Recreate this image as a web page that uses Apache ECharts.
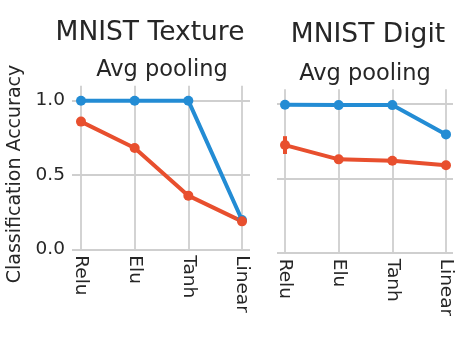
<!DOCTYPE html>
<html>
<head>
<meta charset="utf-8">
<script src="https://cdn.jsdelivr.net/npm/echarts@6/dist/echarts.min.js"></script>
<style>
  html, body { margin: 0; padding: 0; background: #fff; }
  #chart { width: 468px; height: 349px; }
</style>
</head>
<body>
<div id="chart"></div>
<script>
// Activation functions on the x axis
const categories = ['Relu', 'Elu', 'Tanh', 'Linear'];
const yTicks = [0, 0.5, 1.0];

// MNIST Texture, average pooling
const textureBlue = [1.0, 1.0, 1.0, 0.197];
const textureRed = [0.859, 0.682, 0.361, 0.188];
const textureRedErr = [0.0, 0.0, 0.03, 0.0];

// MNIST Digit, average pooling
const digitBlue = [0.995, 0.993, 0.993, 0.796];
const digitRed = [0.724, 0.628, 0.619, 0.588];
const digitRedErr = [0.06, 0.0, 0.0, 0.0];

const BLUE = '#238cd4';
const RED = '#e84f2e';
const GRID = '#cfcfcf';
const TEXT = '#262626';
const FONT = 'DejaVu Sans';

const chart = echarts.init(document.getElementById('chart'));

// panel geometry: background grid (horizontal lines) and data grid (points)
const panels = [
  { bgLeft: 72, bgWidth: 178, dataLeft: 81, dataWidth: 161, top: 85.8, height: 163.5, labels: true },
  { bgLeft: 277, bgWidth: 176, dataLeft: 285, dataWidth: 161, top: 89.2, height: 163.5, labels: false }
];

const grids = [], xAxes = [], yAxes = [];
panels.forEach(p => {
  grids.push({ left: p.bgLeft, top: p.top, width: p.bgWidth, height: p.height });
  grids.push({ left: p.dataLeft, top: p.top, width: p.dataWidth, height: p.height });
});

panels.forEach((p, i) => {
  const bg = i * 2, dg = i * 2 + 1;
  xAxes.push({ gridIndex: bg, type: 'value', show: false, min: 0, max: 1 });
  xAxes.push({
    gridIndex: dg, type: 'category', data: categories, boundaryGap: false,
    axisLine: { show: false }, axisTick: { show: false },
    axisLabel: { rotate: -90, interval: 0, margin: 6, color: TEXT, fontSize: 18.5, fontFamily: FONT },
    splitLine: { show: true, interval: 0, lineStyle: { color: GRID, width: 1.8 } }
  });
  yAxes.push({
    gridIndex: bg, type: 'value', min: 0, max: 1.1, interval: 0.5,
    axisLine: { show: false }, axisTick: { show: false },
    axisLabel: {
      show: p.labels, showMaxLabel: false, margin: 7, color: TEXT, fontSize: 18.5, fontFamily: FONT,
      formatter: v => (yTicks.indexOf(v) >= 0 ? v.toFixed(1) : '')
    },
    splitLine: { show: true, showMaxLine: false, lineStyle: { color: GRID, width: 1.8 } }
  });
  yAxes.push({ gridIndex: dg, type: 'value', min: 0, max: 1.1, show: false });
});

function lineSeries(axisIdx, values, color) {
  return {
    type: 'line', xAxisIndex: axisIdx, yAxisIndex: axisIdx, data: values,
    symbol: 'circle', symbolSize: 10, showSymbol: true,
    lineStyle: { color: color, width: 4 }, itemStyle: { color: color },
    animation: false, z: 3
  };
}

function errorSeries(axisIdx, values, errs, color) {
  const data = values.map((v, i) => [i, v - errs[i], v + errs[i]]).filter((d, i) => errs[i] > 0);
  return {
    type: 'custom', xAxisIndex: axisIdx, yAxisIndex: axisIdx, data: data, z: 4,
    animation: false,
    renderItem: (params, api) => {
      const lo = api.coord([api.value(0), api.value(1)]);
      const hi = api.coord([api.value(0), api.value(2)]);
      return {
        type: 'line',
        shape: { x1: lo[0], y1: lo[1], x2: hi[0], y2: hi[1] },
        style: { stroke: color, lineWidth: 4 }
      };
    }
  };
}

const series = [
  lineSeries(1, textureBlue, BLUE),
  lineSeries(1, textureRed, RED),
  errorSeries(1, textureRed, textureRedErr, RED),
  lineSeries(3, digitBlue, BLUE),
  lineSeries(3, digitRed, RED),
  errorSeries(3, digitRed, digitRedErr, RED)
];

function label(text, x, y, size, rotation) {
  return {
    type: 'text', x: x, y: y, rotation: rotation || 0,
    style: { text: text, fill: TEXT, font: size + 'px "' + FONT + '"', align: 'center', verticalAlign: 'middle' }
  };
}

chart.setOption({
  backgroundColor: '#fff',
  animation: false,
  grid: grids,
  xAxis: xAxes,
  yAxis: yAxes,
  series: series,
  graphic: [
    label('MNIST Texture', 150, 33, 26.5),
    label('MNIST Digit', 368, 35, 26.5),
    label('Avg pooling', 162, 70, 22.5),
    label('Avg pooling', 365, 74, 22.5),
    label('Classification Accuracy', 15, 174, 19, Math.PI / 2)
  ]
});
</script>
</body>
</html>
